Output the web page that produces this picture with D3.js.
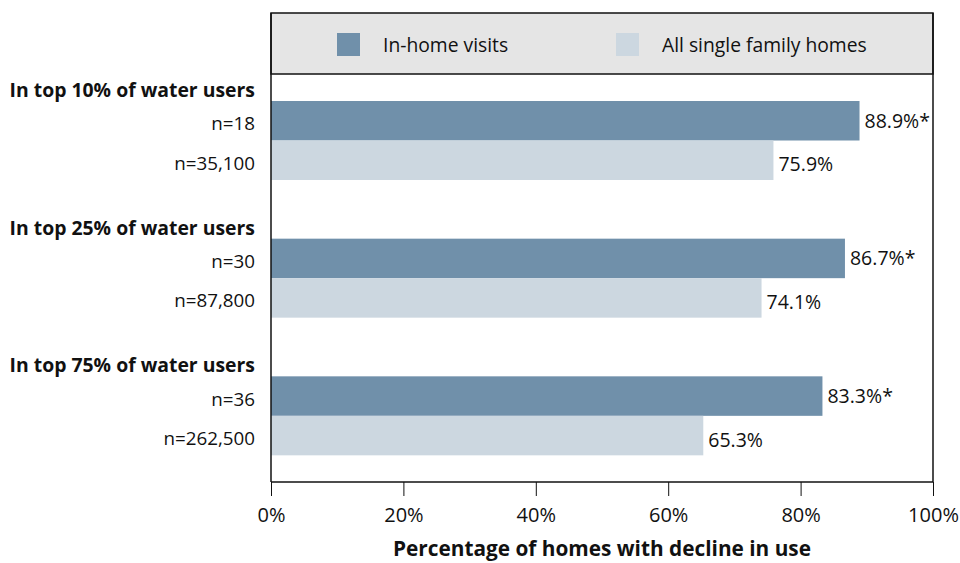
<!DOCTYPE html>
<html>
<head>
<meta charset="utf-8">
<script src="https://cdn.jsdelivr.net/npm/d3@7"></script>
<style>
  body { margin: 0; background: #fff; }
  svg text { font-family: "Open Sans", "Liberation Sans", sans-serif; fill: #111; }
</style>
</head>
<body>
<svg id="chart" width="960" height="563"></svg>
<script>
// Groups of water users and their sample sizes
const groups = ["In top 10% of water users", "In top 25% of water users", "In top 75% of water users"];
const seriesNames = ["In-home visits", "All single family homes"];
const inHome = [88.9, 86.7, 83.3];
const allHomes = [75.9, 74.1, 65.3];
const inHomeN = ["n=18", "n=30", "n=36"];
const allHomesN = ["n=35,100", "n=87,800", "n=262,500"];
const ticks = [0, 20, 40, 60, 80, 100];
const colors = ["#7090aa", "#ccd7e0"];

const svg = d3.select("#chart");
const plotLeft = 271, plotRight = 933, plotTop = 13, legendBottom = 74, plotBottom = 482;

const x = d3.scaleLinear().domain([0, 100]).range([plotLeft, plotRight]);
const yGroup = d3.scaleBand().domain(groups).range([63, 476]);
const bandH = 39.5;

// legend panel
svg.append("rect").attr("x", plotLeft).attr("y", plotTop).attr("width", plotRight - plotLeft).attr("height", legendBottom - plotTop)
  .attr("fill", "#e5e5e5").attr("stroke", "#111").attr("stroke-width", 1.5);

const legendX = [337, 616];
seriesNames.forEach((name, i) => {
  svg.append("rect").attr("x", legendX[i]).attr("y", 33).attr("width", 23).attr("height", 23).attr("fill", colors[i]);
  svg.append("text").attr("x", legendX[i] + 46).attr("y", 52).attr("font-size", 19.3).text(name);
});

// grouped bars with sample sizes and value labels
groups.forEach((g, i) => {
  const y0 = yGroup(g) + 38;
  const rows = [
    { v: inHome[i], n: inHomeN[i], c: colors[0], star: "*" },
    { v: allHomes[i], n: allHomesN[i], c: colors[1], star: "" }
  ];
  svg.append("text").attr("x", 255).attr("y", y0 - 4).attr("text-anchor", "end")
    .attr("font-size", 19.4).attr("font-weight", "bold").text(g);
  rows.forEach((r, j) => {
    const yy = y0 + j * bandH;
    const cy = yy + bandH / 2;
    svg.append("rect").attr("x", x(0)).attr("y", yy).attr("width", x(r.v) - x(0)).attr("height", bandH).attr("fill", r.c);
    svg.append("text").attr("x", 255).attr("y", cy + 9.5).attr("text-anchor", "end")
      .attr("font-size", 18.8).text(r.n);
    svg.append("text").attr("x", x(r.v) + 5).attr("y", cy + (j === 0 ? 7 : 11))
      .attr("font-size", 19.5).text(d3.format(".1f")(r.v) + "%" + r.star);
  });
});

// frame
svg.append("line").attr("x1", plotLeft).attr("x2", plotLeft).attr("y1", plotTop).attr("y2", plotBottom).attr("stroke", "#111").attr("stroke-width", 1.5);
svg.append("line").attr("x1", plotRight).attr("x2", plotRight).attr("y1", plotTop).attr("y2", plotBottom).attr("stroke", "#111").attr("stroke-width", 1.5);

// x axis
const axis = svg.append("g").attr("transform", `translate(0,${plotBottom})`)
  .call(d3.axisBottom(x).tickValues(ticks).tickSize(14).tickPadding(12).tickFormat(d => d + "%"));
axis.select(".domain").attr("stroke", "#111").attr("stroke-width", 1.5).attr("d", `M${plotLeft},0H${plotRight}`);
axis.selectAll(".tick line").attr("stroke", "#111");
axis.selectAll(".tick text").attr("font-size", 20).attr("font-family", "'Open Sans', sans-serif").attr("fill", "#111");

svg.append("text").attr("x", (plotLeft + plotRight) / 2).attr("y", 556).attr("text-anchor", "middle")
  .attr("font-size", 20.8).attr("font-weight", "bold").text("Percentage of homes with decline in use");
</script>
</body>
</html>
